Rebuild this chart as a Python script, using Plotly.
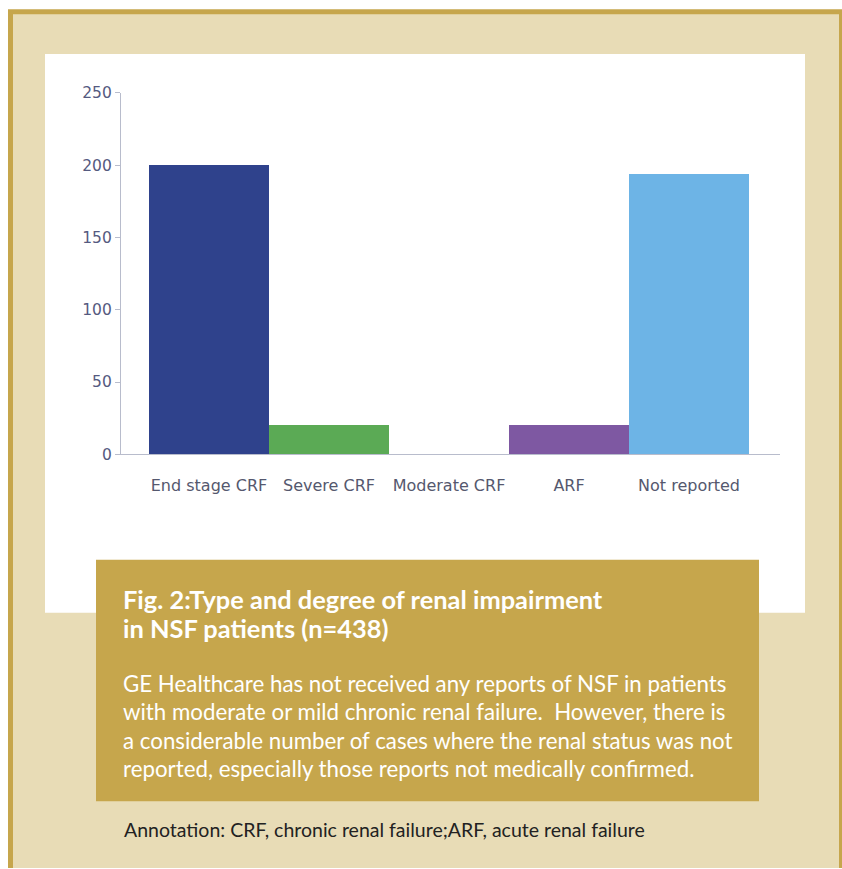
import plotly.graph_objects as go

# The page shows the figure 8px below the top and squeezes it vertically by
# 869/885, so the figure is made 877px tall and vertical positions are mapped.
W, H = 842, 877
S = 869 / 885
OFF = 8

categories = ["End stage CRF", "Severe CRF", "Moderate CRF", "ARF", "Not reported"]
counts = [200, 20, 0, 20, 194]
bar_colors = ["#2F428C", "#5BAA55", "#FFFFFF", "#7E58A2", "#6DB4E6"]
y_ticks = [0, 50, 100, 150, 200, 250]

title_lines = ["Fig. 2:Type and degree of renal impairment", "in NSF patients (n=438)"]
body_lines = [
    "GE Healthcare has not received any reports of NSF in patients",
    "with moderate or mild chronic renal failure.  However, there is",
    "a considerable number of cases where the renal status was not",
    "reported, especially those reports not medically confirmed.",
]
note_text = "Annotation: CRF, chronic renal failure;ARF, acute renal failure"


def px(x):
    return x / W


def py(y):
    fy = y / S - OFF
    return 1 - fy / H


fig = go.Figure()
fig.add_trace(go.Bar(
    x=categories, y=counts, marker=dict(color=bar_colors, line=dict(width=0)),
    width=1.0, showlegend=False, hoverinfo="x+y",
))

shapes = [
    dict(type="rect", xref="paper", yref="paper", x0=px(8), x1=px(842), y0=0, y1=py(8),
         fillcolor="#C6A64C", line=dict(width=0), layer="below"),
    dict(type="rect", xref="paper", yref="paper", x0=px(13), x1=px(839), y0=0, y1=py(13),
         fillcolor="#E8DCB6", line=dict(width=0), layer="below"),
    dict(type="rect", xref="paper", yref="paper", x0=px(45), x1=px(805), y0=py(613), y1=py(53),
         fillcolor="#FFFFFF", line=dict(width=0), layer="below"),
    dict(type="rect", xref="paper", yref="paper", x0=px(96), x1=px(759), y0=py(802), y1=py(560),
         fillcolor="#C6A64C", line=dict(width=0), layer="above"),
]

annotations = []
for i, t in enumerate(title_lines):
    annotations.append(dict(
        text="<b>" + t + "</b>", xref="paper", yref="paper", x=px(121), y=py(599 + i * 29),
        xanchor="left", yanchor="middle", showarrow=False,
        font=dict(family="Lato", size=25.4, color="#FFFFFF"),
    ))
for i, t in enumerate(body_lines):
    annotations.append(dict(
        text=t, xref="paper", yref="paper", x=px(121), y=py(684 + i * 28.5),
        xanchor="left", yanchor="middle", showarrow=False,
        font=dict(family="Lato", size=22.3, color="#FFFFFF"),
    ))
annotations.append(dict(
    text=note_text, xref="paper", yref="paper", x=px(122), y=py(830),
    xanchor="left", yanchor="middle", showarrow=False,
    font=dict(family="Lato", size=19.5, color="#222222"),
))

fig.update_layout(
    width=W, height=H, margin=dict(l=0, r=0, t=0, b=0),
    paper_bgcolor="#FFFFFF", plot_bgcolor="rgba(0,0,0,0)",
    shapes=shapes, annotations=annotations, bargap=0,
    xaxis=dict(
        domain=[px(121), px(780)], range=[-0.733, 4.758],
        showline=True, linecolor="#B8BCCC", linewidth=1.2,
        ticks="outside", ticklen=16, tickcolor="rgba(0,0,0,0)",
        showgrid=False, zeroline=False,
        tickfont=dict(family="DejaVu Sans", size=16, color="#55586E"),
        anchor="y",
    ),
    yaxis=dict(
        domain=[py(454.3), py(92)], range=[0, 250],
        tickvals=y_ticks, ticktext=[str(v) for v in y_ticks],
        showline=True, linecolor="#B8BCCC", linewidth=1.2,
        ticks="outside", ticklen=5, tickcolor="#B8BCCC",
        showgrid=False, zeroline=False,
        tickfont=dict(family="DejaVu Sans", size=15.5, color="#555A80"),
        anchor="x",
    ),
)

fig.write_html("out.html")
